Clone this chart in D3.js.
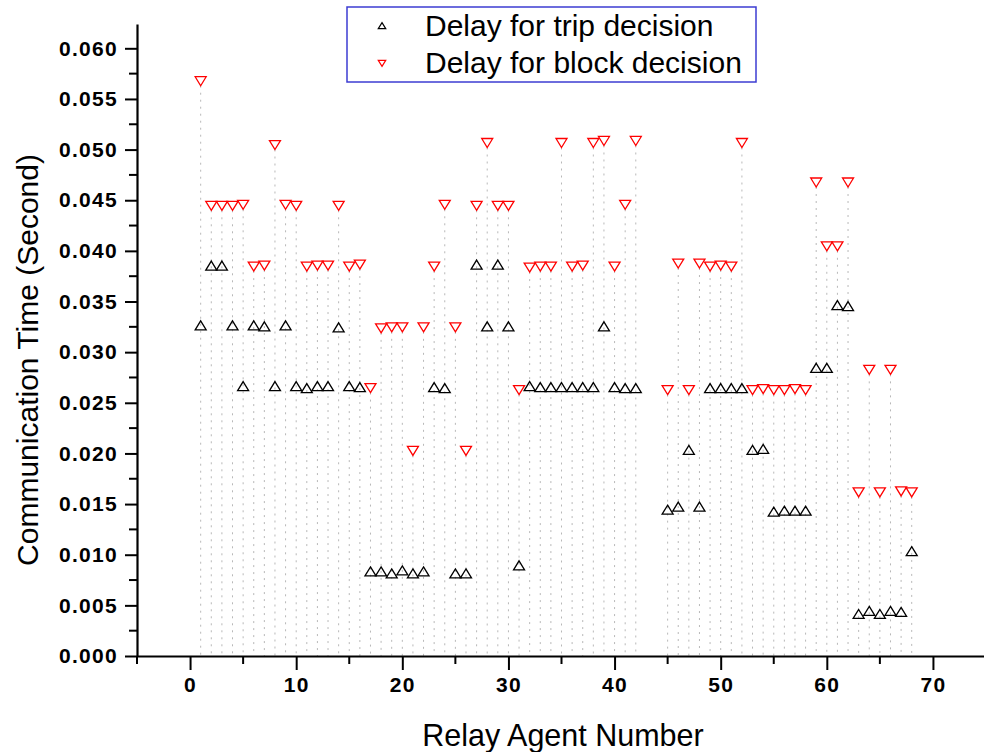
<!DOCTYPE html>
<html>
<head>
<meta charset="utf-8">
<script src="https://cdn.jsdelivr.net/npm/d3@7"></script>
<style>
  html, body { margin: 0; padding: 0; background: #fff; }
  svg { display: block; font-family: "Liberation Sans", Arial, sans-serif; }
</style>
</head>
<body>
<svg id="chart" width="984" height="752"></svg>
<script>
// Relay agent numbers (agents 43 and 44 report no measurement)
const agents = [
  1, 2, 3, 4, 5, 6, 7, 8, 9, 10,
  11, 12, 13, 14, 15, 16, 17, 18, 19, 20,
  21, 22, 23, 24, 25, 26, 27, 28, 29, 30,
  31, 32, 33, 34, 35, 36, 37, 38, 39, 40,
  41, 42, 45, 46, 47, 48, 49, 50,
  51, 52, 53, 54, 55, 56, 57, 58, 59, 60,
  61, 62, 63, 64, 65, 66, 67, 68
];

// Communication time (s) until the trip decision
const tripDelay = [
  0.0326, 0.0385, 0.0385, 0.0326, 0.0266, 0.0326, 0.0325, 0.0266, 0.0326, 0.0266,
  0.0264, 0.0266, 0.0266, 0.0324, 0.0266, 0.0265, 0.0083, 0.0083, 0.0081, 0.0084,
  0.0081, 0.0083, 0.0265, 0.0264, 0.0081, 0.0081, 0.0386, 0.0325, 0.0386, 0.0325,
  0.0089, 0.0266, 0.0265, 0.0265, 0.0265, 0.0265, 0.0265, 0.0265, 0.0325, 0.0265,
  0.0264, 0.0264, 0.0144, 0.0147, 0.0203, 0.0147, 0.0264, 0.0264,
  0.0264, 0.0264, 0.0203, 0.0204, 0.0142, 0.0143, 0.0143, 0.0143, 0.0284, 0.0284,
  0.0346, 0.0345, 0.0041, 0.0044, 0.0041, 0.0044, 0.0043, 0.0103
];

// Communication time (s) until the block decision
const blockDelay = [
  0.0568, 0.0445, 0.0445, 0.0445, 0.0446, 0.0385, 0.0386, 0.0505, 0.0446, 0.0445,
  0.0385, 0.0386, 0.0386, 0.0445, 0.0385, 0.0387, 0.0265, 0.0324, 0.0325, 0.0325,
  0.0203, 0.0325, 0.0385, 0.0446, 0.0325, 0.0203, 0.0445, 0.0507, 0.0445, 0.0445,
  0.0263, 0.0384, 0.0385, 0.0385, 0.0507, 0.0385, 0.0386, 0.0507, 0.0509, 0.0385,
  0.0446, 0.0509, 0.0263, 0.0388, 0.0263, 0.0388, 0.0385, 0.0386,
  0.0385, 0.0507, 0.0263, 0.0264, 0.0263, 0.0263, 0.0264, 0.0263, 0.0468, 0.0405,
  0.0405, 0.0468, 0.0162, 0.0283, 0.0162, 0.0283, 0.0163, 0.0162
];

const seriesNames = ["Delay for trip decision", "Delay for block decision"];
const xTickValues = [0, 10, 20, 30, 40, 50, 60, 70];
const yTickValues = [0, 0.005, 0.010, 0.015, 0.020, 0.025, 0.030, 0.035, 0.040, 0.045, 0.050, 0.055, 0.060];

const svg = d3.select("#chart");

const plotLeft = 137, plotBottom = 656, plotTop = 24, plotRight = 986;
const x = d3.scaleLinear().domain([-5, 75]).range([plotLeft, plotRight]);
const y = d3.scaleLinear().domain([0, 0.0624]).range([plotBottom, plotTop]);

const rows = agents.map((a, i) => ({ agent: a, trip: tripDelay[i], block: blockDelay[i] }));

// Dotted drop lines from the highest point of each agent to the baseline
svg.append("g")
  .selectAll("line")
  .data(rows)
  .join("line")
  .attr("x1", d => x(d.agent)).attr("x2", d => x(d.agent))
  .attr("y1", d => y(Math.max(d.trip, d.block)) + 5)
  .attr("y2", y(0))
  .attr("stroke", "#b8b8b8")
  .attr("stroke-width", 1)
  .attr("stroke-dasharray", "2,5");

// Axes
const xMinor = d3.range(-5, 80, 10);
const yMinor = d3.range(0.0025, 0.0624, 0.005);

const xAxis = svg.append("g").attr("transform", `translate(0,${plotBottom})`);
xAxis.call(d3.axisBottom(x).tickValues(xTickValues).tickFormat(d3.format("d")).tickSize(14).tickSizeOuter(0));
xAxis.append("g").selectAll("line").data(xMinor).join("line")
  .attr("x1", d => x(d)).attr("x2", d => x(d)).attr("y1", 0).attr("y2", 8)
  .attr("stroke", "#000").attr("stroke-width", 2);

const yAxis = svg.append("g").attr("transform", `translate(${plotLeft},0)`);
yAxis.call(d3.axisLeft(y).tickValues(yTickValues).tickFormat(d3.format(".3f")).tickSize(12).tickSizeOuter(0));
yAxis.append("g").selectAll("line").data(yMinor).join("line")
  .attr("y1", d => y(d)).attr("y2", d => y(d)).attr("x1", 0).attr("x2", -8)
  .attr("stroke", "#000").attr("stroke-width", 2);

svg.selectAll(".domain").attr("stroke", "#000").attr("stroke-width", 2.2);
svg.selectAll(".tick line").attr("stroke", "#000").attr("stroke-width", 2);
svg.selectAll(".tick text")
  .attr("fill", "#000")
  .style("font-family", "'Liberation Sans', Arial, sans-serif")
  .style("font-size", "21px")
  .style("font-weight", "bold")
  .style("letter-spacing", "1.3px");
xAxis.selectAll(".tick text").attr("dy", "0.95em").attr("y", 16);
yAxis.selectAll(".tick text").attr("x", -19);

// Axis titles
svg.append("text")
  .attr("x", 563).attr("y", 746)
  .attr("text-anchor", "middle")
  .style("font-size", "30.5px")
  .text("Relay Agent Number");

svg.append("text")
  .attr("transform", `translate(38,360) rotate(-90)`)
  .attr("text-anchor", "middle")
  .style("font-size", "30px")
  .text("Communication Time (Second)");

// Marker shapes
const upTri = s => `M0,${-s} L${s * 1.1},${s * 0.8} L${-s * 1.1},${s * 0.8} Z`;
const downTri = s => `M0,${s} L${s * 1.1},${-s * 0.8} L${-s * 1.1},${-s * 0.8} Z`;

svg.append("g").selectAll("path")
  .data(rows)
  .join("path")
  .attr("transform", d => `translate(${x(d.agent)},${y(d.trip)})`)
  .attr("d", upTri(5))
  .attr("fill", "none")
  .attr("stroke", "#000")
  .attr("stroke-width", 1.3);

svg.append("g").selectAll("path")
  .data(rows)
  .join("path")
  .attr("transform", d => `translate(${x(d.agent)},${y(d.block)})`)
  .attr("d", downTri(5))
  .attr("fill", "none")
  .attr("stroke", "#ff0000")
  .attr("stroke-width", 1.3);

// Legend
const legend = svg.append("g");
legend.append("rect")
  .attr("x", 347).attr("y", 7).attr("width", 409).attr("height", 75)
  .attr("fill", "#fff").attr("stroke", "#3c3cd2").attr("stroke-width", 1.5);
const legendItems = [
  { name: seriesNames[0], shape: upTri(3.4), color: "#000", cy: 26 },
  { name: seriesNames[1], shape: downTri(3.4), color: "#ff0000", cy: 63 }
];
legendItems.forEach(it => {
  legend.append("path")
    .attr("transform", `translate(382,${it.cy})`)
    .attr("d", it.shape)
    .attr("fill", "none").attr("stroke", it.color).attr("stroke-width", 1.2);
  legend.append("text")
    .attr("x", 425).attr("y", it.cy + 10)
    .style("font-size", "30px")
    .text(it.name);
});
</script>
</body>
</html>
